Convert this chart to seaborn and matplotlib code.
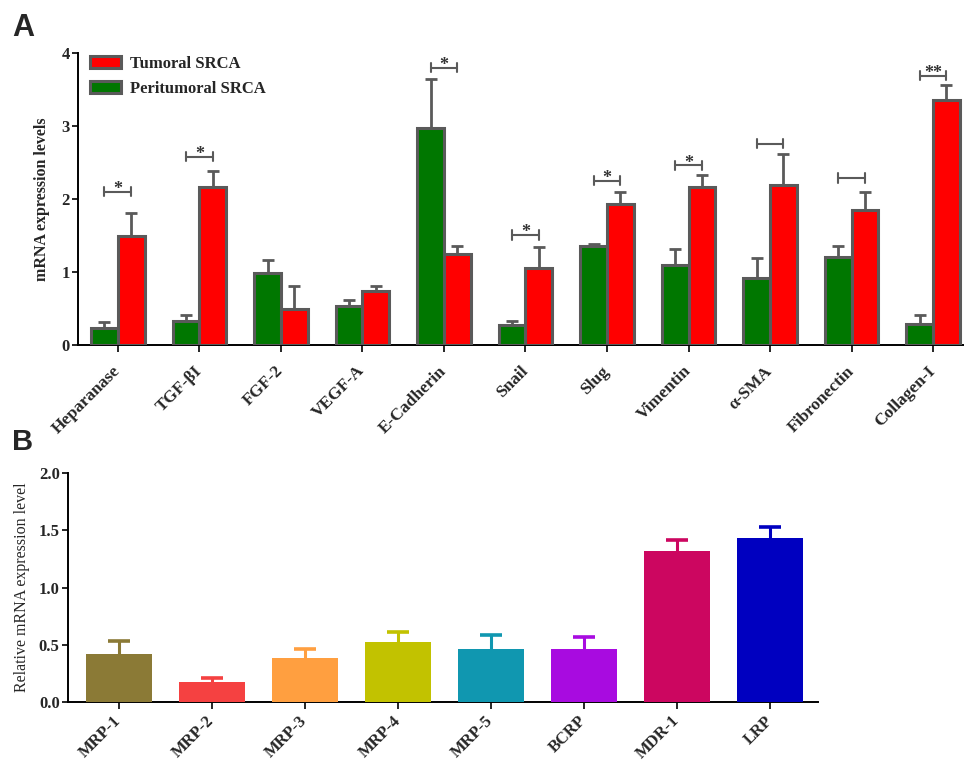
import numpy as np
import pandas as pd
import matplotlib
matplotlib.use("Agg")
import matplotlib.pyplot as plt
import seaborn as sns
from matplotlib.patches import Patch

# ---------------- data ----------------
genes_a = ["Heparanase", "TGF-\u03b2I", "FGF-2", "VEGF-A", "E-Cadherin", "Snail",
           "Slug", "Vimentin", "\u03b1-SMA", "Fibronectin", "Collagen-I"]
peri_mean = [0.23, 0.33, 0.99, 0.53, 2.97, 0.27, 1.35, 1.10, 0.92, 1.21, 0.29]
peri_err = [0.09, 0.08, 0.17, 0.09, 0.68, 0.06, 0.04, 0.22, 0.27, 0.15, 0.12]
tum_mean = [1.49, 2.16, 0.49, 0.74, 1.24, 1.05, 1.93, 2.16, 2.19, 1.85, 3.35]
tum_err = [0.32, 0.23, 0.32, 0.07, 0.11, 0.29, 0.16, 0.17, 0.42, 0.24, 0.21]
bracket_y = [2.10, 2.58, None, None, 3.80, 1.51, 2.25, 2.46, 2.76, 2.29, 3.69]
sig_labels = ["*", "*", "", "", "*", "*", "*", "*", "", "", "**"]
series_a = ["Peritumoral SRCA", "Tumoral SRCA"]

genes_b = ["MRP-1", "MRP-2", "MRP-3", "MRP-4", "MRP-5", "BCRP", "MDR-1", "LRP"]
vals_b = [0.42, 0.17, 0.38, 0.52, 0.46, 0.46, 1.32, 1.43]
errs_b = [0.11, 0.04, 0.08, 0.09, 0.12, 0.11, 0.10, 0.10]
colors_b = ["#8B7A36", "#F54141", "#FF9F40", "#C2C200", "#1097B0", "#A80BE0",
            "#CC0660", "#0000C0"]

# ---------------- style ----------------
sns.set_theme(style="ticks")
plt.rcParams["font.family"] = ["Liberation Serif", "DejaVu Serif"]
plt.rcParams["axes.linewidth"] = 1.4
plt.rcParams["xtick.major.width"] = 1.4
plt.rcParams["ytick.major.width"] = 1.4
plt.rcParams["xtick.major.size"] = 5
plt.rcParams["ytick.major.size"] = 4
plt.rcParams["axes.edgecolor"] = "black"

fig = plt.figure(figsize=(9.64, 7.63), dpi=100)
ax1 = fig.add_axes([78/964, 1-345/763, 1-78/964, (345-53)/763])
ax2 = fig.add_axes([68/964, 1-701.7/763, (818-68)/964, (701.7-473.3)/763])

edge = "#5a5a5a"

# ---------------- panel A ----------------
df_a = pd.DataFrame({
    "gene": genes_a * 2,
    "group": [series_a[0]] * len(genes_a) + [series_a[1]] * len(genes_a),
    "value": peri_mean + tum_mean,
})
pal_a = {series_a[0]: "#007700", series_a[1]: "#FF0000"}
sns.barplot(data=df_a, x="gene", y="value", hue="group", hue_order=series_a,
            palette=pal_a, saturation=1, width=0.66, edgecolor=edge,
            linewidth=2.2, errorbar=None, ax=ax1, legend=False, zorder=3)

centers = {}
for cont, means, errs in zip(ax1.containers, [peri_mean, tum_mean], [peri_err, tum_err]):
    xs = [b.get_x() + b.get_width()/2 for b in cont]
    centers[len(centers)] = xs
    ax1.errorbar(xs, means, yerr=errs, fmt="none",
                 ecolor=edge, elinewidth=2.0, capsize=4, capthick=2.0, zorder=2)

for i, (by, lab) in enumerate(zip(bracket_y, sig_labels)):
    if by is None:
        continue
    x0, x1 = centers[0][i], centers[1][i]
    ax1.plot([x0, x1], [by, by], color=edge, lw=1.5, zorder=4, clip_on=False)
    ax1.plot([x0, x0], [by-0.065, by+0.065], color=edge, lw=1.5, zorder=4, clip_on=False)
    ax1.plot([x1, x1], [by-0.065, by+0.065], color=edge, lw=1.5, zorder=4, clip_on=False)
    if lab:
        ax1.text((x0+x1)/2, by-0.09, lab, ha="center", va="bottom", fontsize=13,
                 fontweight="bold", color="#333333", zorder=5)

ax1.set_ylim(0, 4)
ax1.set_xlim(-0.49, 10.38)
ax1.set_yticks([0, 1, 2, 3, 4])
ax1.set_yticklabels(["0", "1", "2", "3", "4"], fontsize=12, fontweight="bold")
ax1.set_xticks(range(len(genes_a)))
ax1.set_xticklabels(genes_a, rotation=45, ha="right", va="center", rotation_mode="anchor",
                    fontsize=12.5, fontweight="bold")
ax1.set_xlabel("")
ax1.set_ylabel("mRNA expression levels", fontsize=11.5, fontweight="bold", labelpad=8)
ax1.tick_params(axis="y", pad=2)
ax1.tick_params(axis="x", pad=12)
sns.despine(ax=ax1, top=True, right=True)

handles = [Patch(facecolor=pal_a[series_a[1]], edgecolor=edge, linewidth=2.2, label=series_a[1]),
           Patch(facecolor=pal_a[series_a[0]], edgecolor=edge, linewidth=2.2, label=series_a[0])]
ax1.legend(handles=handles, loc="upper left", bbox_to_anchor=(0.0, 1.03), frameon=False,
           prop={"weight": "bold", "size": 12, "family": "Liberation Serif"},
           handlelength=1.9, handleheight=0.7, handletextpad=0.5, labelspacing=0.55,
           borderaxespad=0.3)

# ---------------- panel B ----------------
df_b = pd.DataFrame({"gene": genes_b, "value": vals_b})
sns.barplot(data=df_b, x="gene", y="value", hue="gene", palette=colors_b,
            saturation=1, width=0.7, errorbar=None, legend=False, ax=ax2,
            linewidth=0, zorder=3)
for bar, v, e, c in zip(ax2.patches, vals_b, errs_b, colors_b):
    xc = bar.get_x() + bar.get_width()/2
    ax2.errorbar([xc], [v], yerr=[e], fmt="none", ecolor=c, elinewidth=2.2,
                 capsize=8, capthick=2.6, zorder=2)

ax2.set_ylim(0, 2.0)
ax2.set_xlim(-0.548, 7.516)
ax2.set_yticks([0, 0.5, 1.0, 1.5, 2.0])
ax2.set_yticklabels(["0.0", "0.5", "1.0", "1.5", "2.0"], fontsize=12, fontweight="bold")
ax2.set_xticks(range(len(genes_b)))
ax2.set_xticklabels(genes_b, rotation=45, ha="right", va="center", rotation_mode="anchor",
                    fontsize=12, fontweight="bold")
ax2.set_xlabel("")
ax2.set_ylabel("Relative mRNA expression level", fontsize=11.5, labelpad=6)
ax2.tick_params(axis="y", pad=2)
ax2.tick_params(axis="x", pad=7)
sns.despine(ax=ax2, top=True, right=True)

fig.text(12/964, 1-13/763, "A", fontsize=22, fontweight="bold", va="top", ha="left",
         family="Liberation Sans")
fig.text(12/964, 1-428/763, "B", fontsize=21, fontweight="bold", va="top", ha="left",
         family="Liberation Sans")

fig.savefig("out.png", dpi=100)
